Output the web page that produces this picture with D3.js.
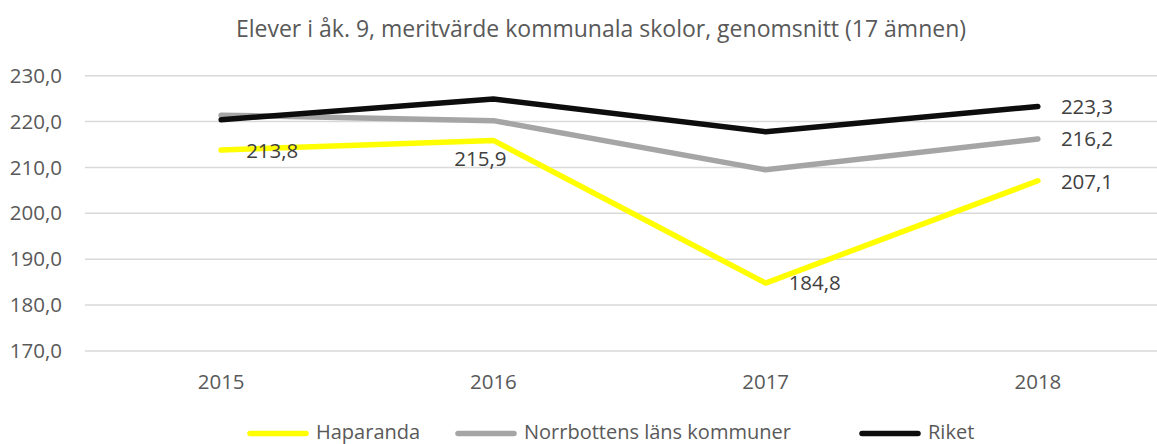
<!DOCTYPE html>
<html>
<head>
<meta charset="utf-8">
<script src="https://cdn.jsdelivr.net/npm/d3@7"></script>
<style>
  body { margin: 0; background: #fff; }
  text { font-family: "Open Sans", sans-serif; }
</style>
</head>
<body>
<div id="chart"></div>
<script>
// data
var years = ["2015", "2016", "2017", "2018"];
var haparanda = [213.8, 215.9, 184.8, 207.1];
var norrbotten = [221.4, 220.2, 209.5, 216.2];
var riket = [220.4, 224.9, 217.8, 223.3];
var seriesNames = ["Haparanda", "Norrbottens läns kommuner", "Riket"];
var yTicks = [170, 180, 190, 200, 210, 220, 230];
var title = "Elever i åk. 9, meritvärde kommunala skolor, genomsnitt (17 ämnen)";

var colors = ["#ffff00", "#a5a5a5", "#0d0d0d"];
var series = [haparanda, norrbotten, riket];

var W = 1157, H = 444;
var fmt = function(v) { return d3.format(".1f")(v).replace(".", ","); };

var svg = d3.select("#chart").append("svg")
  .attr("width", W).attr("height", H);

var x = d3.scaleBand().domain(years).range([85, 1174]);
var y = d3.scaleLinear().domain([170, 230]).range([351, 75.7]);

// title
svg.append("text")
  .attr("x", 601).attr("y", 37)
  .attr("text-anchor", "middle")
  .attr("fill", "#595959").style("font-size", "23px")
  .text(title);

// gridlines
svg.append("g").selectAll("line").data(yTicks).enter().append("line")
  .attr("x1", 85).attr("x2", 1174)
  .attr("y1", function(d) { return y(d); }).attr("y2", function(d) { return y(d); })
  .attr("stroke", "#d9d9d9").attr("stroke-width", 1.5);

// y axis
var yAxis = svg.append("g").attr("transform", "translate(85,0)")
  .call(d3.axisLeft(y).tickValues(yTicks).tickFormat(fmt).tickSize(0).tickPadding(23));
yAxis.select(".domain").remove();
yAxis.selectAll("text").attr("fill", "#595959").style("font-size", "20.5px")
  .attr("font-family", null);

// x axis
var xAxis = svg.append("g").attr("transform", "translate(0,351)")
  .call(d3.axisBottom(x).tickSize(0));
xAxis.select(".domain").remove();
xAxis.selectAll("text").attr("fill", "#595959").style("font-size", "20.5px")
  .attr("font-family", null).attr("y", 38).attr("dy", 0);

// lines
var line = d3.line()
  .x(function(d, i) { return x(years[i]) + x.bandwidth() / 2; })
  .y(function(d) { return y(d); });

series.forEach(function(s, k) {
  svg.append("path").datum(s)
    .attr("d", line)
    .attr("fill", "none")
    .attr("stroke", colors[k])
    .attr("stroke-width", 5.5)
    .attr("stroke-linecap", "round")
    .attr("stroke-linejoin", "round");
});

// data labels: [series, point index, dx, dy, anchor]
var labelPlacement = [
  [0, 0, 25, 1, "start"],
  [0, 1, -13, 18, "middle"],
  [0, 2, 23, 0, "start"],
  [0, 3, 23, 1, "start"],
  [1, 3, 23, 0, "start"],
  [2, 3, 23, 0, "start"]
];
svg.append("g").selectAll("text").data(labelPlacement).enter().append("text")
  .attr("x", function(d) { return x(years[d[1]]) + x.bandwidth() / 2 + d[2]; })
  .attr("y", function(d) { return y(series[d[0]][d[1]]) + d[3]; })
  .attr("dy", "0.36em")
  .attr("text-anchor", function(d) { return d[4]; })
  .attr("fill", "#404040").style("font-size", "20.5px")
  .text(function(d) { return fmt(series[d[0]][d[1]]); });

// legend
var legendX = [250, 458, 862];
var lg = svg.append("g").selectAll("g").data(seriesNames).enter().append("g")
  .attr("transform", function(d, i) { return "translate(" + legendX[i] + ",0)"; });
lg.append("line")
  .attr("x1", 0).attr("x2", 56)
  .attr("y1", 433.5).attr("y2", 433.5)
  .attr("stroke", function(d, i) { return colors[i]; })
  .attr("stroke-width", 5.5).attr("stroke-linecap", "round");
lg.append("text")
  .attr("x", 66).attr("y", 439)
  .attr("fill", "#595959").style("font-size", "20px")
  .text(function(d) { return d; });
</script>
</body>
</html>
